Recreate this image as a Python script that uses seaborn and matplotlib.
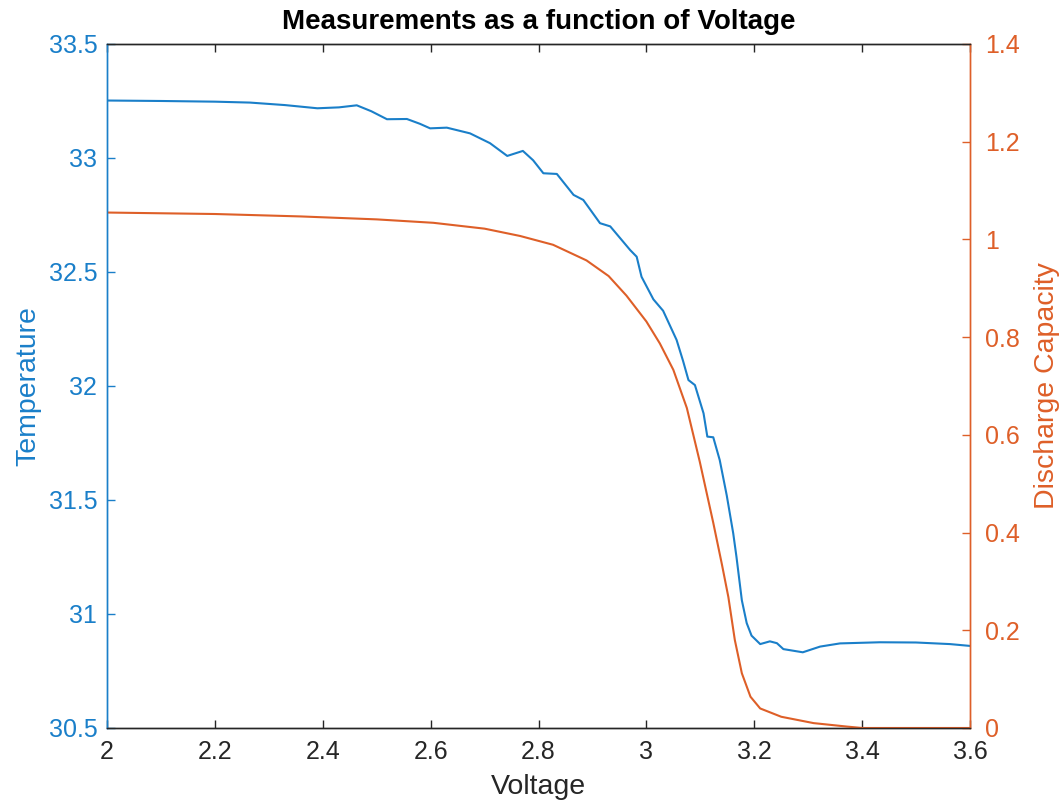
import numpy as np
import pandas as pd
import matplotlib
matplotlib.use("Agg")
import matplotlib.pyplot as plt
import seaborn as sns

# Temperature vs Voltage
volt_temp = [2.000, 2.100, 2.200, 2.265, 2.330, 2.390, 2.430, 2.463, 2.490, 2.519,
             2.556, 2.580, 2.599, 2.630, 2.673, 2.710, 2.742, 2.771, 2.790, 2.809,
             2.834, 2.865, 2.883, 2.914, 2.933, 2.970, 2.982, 2.991, 3.013, 3.031,
             3.056, 3.068, 3.078, 3.090, 3.106, 3.113, 3.124, 3.136, 3.149, 3.161,
             3.167, 3.177, 3.186, 3.195, 3.211, 3.229, 3.242, 3.254, 3.290, 3.322,
             3.359, 3.433, 3.500, 3.563, 3.600]
temperature = [33.252, 33.250, 33.247, 33.243, 33.232, 33.218, 33.222, 33.231, 33.205, 33.170,
               33.171, 33.150, 33.130, 33.133, 33.108, 33.065, 33.009, 33.031, 32.990, 32.933,
               32.930, 32.838, 32.816, 32.714, 32.700, 32.596, 32.567, 32.479, 32.380, 32.330,
               32.202, 32.110, 32.026, 32.004, 31.880, 31.778, 31.775, 31.675, 31.520, 31.354,
               31.251, 31.060, 30.960, 30.905, 30.868, 30.880, 30.872, 30.846, 30.832, 30.857,
               30.871, 30.876, 30.875, 30.868, 30.860]

# Discharge capacity vs Voltage
volt_cap = [2.000, 2.200, 2.360, 2.500, 2.605, 2.700, 2.766, 2.827, 2.889, 2.930,
            2.963, 3.000, 3.025, 3.050, 3.075, 3.099, 3.124, 3.140, 3.152, 3.164,
            3.177, 3.193, 3.211, 3.250, 3.310, 3.371, 3.400, 3.600]
capacity = [1.055, 1.052, 1.047, 1.041, 1.034, 1.022, 1.007, 0.989, 0.957, 0.925,
            0.885, 0.832, 0.787, 0.733, 0.655, 0.545, 0.420, 0.335, 0.268, 0.180,
            0.112, 0.064, 0.040, 0.023, 0.010, 0.003, 0.0, 0.0]

blue = "#1a7fc9"
orange = "#de5f28"
dark = "#262626"

sns.set_style("white")
plt.rcParams["font.family"] = ["Liberation Sans", "DejaVu Sans"]

df_t = pd.DataFrame({"Voltage": volt_temp, "Temperature": temperature})
df_c = pd.DataFrame({"Voltage": volt_cap, "Discharge Capacity": capacity})

fig = plt.figure(figsize=(10.63, 8.07), dpi=100)
ax = fig.add_axes([0.1007, 0.0979, 0.8118, 0.8476])
ax2 = ax.twinx()

sns.lineplot(data=df_t, x="Voltage", y="Temperature", ax=ax, color=blue, linewidth=1.5)
sns.lineplot(data=df_c, x="Voltage", y="Discharge Capacity", ax=ax2, color=orange, linewidth=1.5)

ax.set_xlim(2, 3.6)
ax.set_ylim(30.5, 33.5)
ax2.set_ylim(0, 1.4)

ax.set_xticks(np.arange(2, 3.61, 0.2))
ax.set_xticklabels(["2", "2.2", "2.4", "2.6", "2.8", "3", "3.2", "3.4", "3.6"])
ax.set_yticks([30.5, 31, 31.5, 32, 32.5, 33, 33.5])
ax.set_yticklabels(["30.5", "31", "31.5", "32", "32.5", "33", "33.5"])
ax2.set_yticks([0, 0.2, 0.4, 0.6, 0.8, 1, 1.2, 1.4])
ax2.set_yticklabels(["0", "0.2", "0.4", "0.6", "0.8", "1", "1.2", "1.4"])

fs = 18
ax.tick_params(axis="x", direction="in", length=6, width=1, colors=dark, labelsize=fs,
               top=True, bottom=True, pad=9)
ax.tick_params(axis="y", direction="in", length=6, width=1, colors=blue, labelsize=fs, pad=7)
ax2.tick_params(axis="y", direction="in", length=6, width=1, colors=orange, labelsize=fs, pad=11)
ax2.tick_params(axis="x", top=False)

for a in (ax, ax2):
    a.spines["top"].set_color(dark)
    a.spines["bottom"].set_color(dark)
    for s in a.spines.values():
        s.set_linewidth(1)
ax.spines["left"].set_color(blue)
ax2.spines["left"].set_color(blue)
ax.spines["right"].set_color(orange)
ax2.spines["right"].set_color(orange)

ax.set_xlabel("Voltage", fontsize=20.5, color=dark, labelpad=7)
ax.set_ylabel("Temperature", fontsize=20.5, color=blue, labelpad=5)
ax2.set_ylabel("Discharge Capacity", fontsize=20.5, color=orange, labelpad=10)
ax.set_title("Measurements as a function of Voltage", fontsize=20, fontweight="bold",
             color="black", pad=11)

fig.savefig("out.png", dpi=100)
